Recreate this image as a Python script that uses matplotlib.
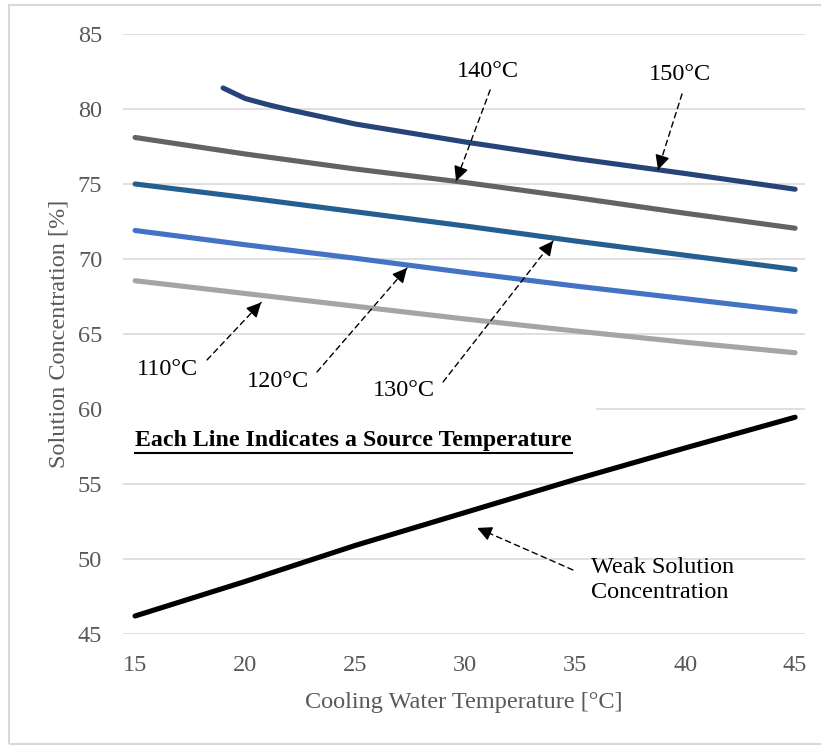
import matplotlib
matplotlib.use("Agg")
import matplotlib.pyplot as plt
from matplotlib.lines import Line2D
from matplotlib.patches import Rectangle

plt.rcParams['font.family'] = ['Liberation Serif', 'DejaVu Serif']

# cooling water temperature [C]
temps = [15, 20, 25, 30, 35, 40, 45]
temps_150 = [19, 20, 21, 22, 25, 30, 35, 40, 45]

# solution concentration [%] for each source temperature
conc_150 = [81.4, 80.7, 80.3, 79.95, 79.0, 77.8, 76.7, 75.7, 74.65]
conc_140 = [78.1, 77.0, 76.0, 75.1, 74.1, 73.05, 72.05]
conc_130 = [75.0, 74.1, 73.15, 72.2, 71.2, 70.25, 69.3]
conc_120 = [71.9, 70.95, 70.05, 69.1, 68.2, 67.35, 66.5]
conc_110 = [68.55, 67.7, 66.85, 66.0, 65.2, 64.45, 63.75]
weak_conc = [46.2, 48.5, 50.9, 53.1, 55.3, 57.4, 59.45]

yticks = [45, 50, 55, 60, 65, 70, 75, 80, 85]
xticks = [15, 20, 25, 30, 35, 40, 45]

fig = plt.figure(figsize=(8.21, 7.45), dpi=100)
ax = fig.add_axes([0.1498, 0.149, 0.8307, 0.8054])

lw = 3.7
ax.plot(temps_150, conc_150, color='#264478', lw=lw, solid_capstyle='round', zorder=3)
ax.plot(temps, conc_140, color='#636363', lw=lw, solid_capstyle='round', zorder=3)
ax.plot(temps, conc_130, color='#255E91', lw=lw, solid_capstyle='round', zorder=3)
ax.plot(temps, conc_120, color='#4472C4', lw=lw, solid_capstyle='round', zorder=3)
ax.plot(temps, conc_110, color='#A5A5A5', lw=lw, solid_capstyle='round', zorder=3)
ax.plot(temps, weak_conc, color='black', lw=lw, solid_capstyle='round', zorder=3)

ax.set_xlim(14.45, 45.45)
ax.set_ylim(45, 85)
ax.set_xticks(xticks)
ax.set_yticks(yticks)
ax.grid(axis='y', color='#D9D9D9', lw=1.2, zorder=0)
ax.set_axisbelow(True)
for s in ax.spines.values():
    s.set_visible(False)
ax.tick_params(length=0, labelsize=17.5, labelcolor='#595959')
ax.tick_params(axis='x', pad=15)
ax.tick_params(axis='y', pad=15)

ax.set_xlabel('Cooling Water Temperature [°C]', fontsize=17.5, color='#595959')
ax.set_ylabel('Solution Concentration [%]', fontsize=17.5, color='#595959')
ax.xaxis.set_label_coords(0.5, -0.096)
ax.yaxis.set_label_coords(-0.078, 0.5)


def dashed_arrow(tail, tip):
    # dashed shaft plus a solid head
    ax.annotate('', xy=tip, xytext=tail, zorder=5,
                arrowprops=dict(arrowstyle='-', ls=(0, (4, 3)), lw=1, color='black',
                                shrinkA=0, shrinkB=0))
    near = (tip[0] - 0.05 * (tip[0] - tail[0]), tip[1] - 0.05 * (tip[1] - tail[1]))
    ax.annotate('', xy=tip, xytext=near, zorder=5,
                arrowprops=dict(arrowstyle='-|>', lw=1, color='black',
                                mutation_scale=22, shrinkA=0, shrinkB=0))


labels = [
    ('140°C', (31.05, 82.53), (31.14, 81.27), (29.59, 75.2)),
    ('150°C', (39.77, 82.33), (39.86, 81.0), (38.77, 75.95)),
    ('110°C', (16.45, 62.6), (18.27, 63.27), (20.73, 67.1)),
    ('120°C', (21.5, 61.8), (23.27, 62.47), (27.36, 69.4)),
    ('130°C', (27.23, 61.2), (29.0, 61.8), (34.0, 71.2)),
]
for txt, pos, tail, tip in labels:
    ax.text(pos[0], pos[1], txt, fontsize=17.5, ha='center', va='center', zorder=5)
    dashed_arrow(tail, tip)

ax.text(35.73, 48.6, 'Weak Solution\nConcentration', fontsize=17.5, ha='left',
        va='center', linespacing=1.25, zorder=5)
dashed_arrow((34.9, 49.27), (30.55, 52.07))

title = ax.text(15.0, 57.93, 'Each Line Indicates a Source Temperature', fontsize=17.2,
                fontweight='bold', ha='left', va='center', zorder=2,
                bbox=dict(boxstyle='square,pad=1.0', fc='white', ec='none'))

# underline the note
fig.canvas.draw()
r = fig.canvas.get_renderer()
bb = title.get_window_extent(renderer=r).transformed(fig.transFigure.inverted())
uy = bb.y0 - 2.0 / 745
fig.add_artist(Line2D([bb.x0, bb.x1], [uy, uy], color='black', lw=1.5))

# outer chart border
fig.add_artist(Rectangle((9 / 821, 1 / 745), 1.0, 739 / 745, fill=False,
                         ec='#D9D9D9', lw=1.5, transform=fig.transFigure))

fig.savefig('out.png', dpi=100)
